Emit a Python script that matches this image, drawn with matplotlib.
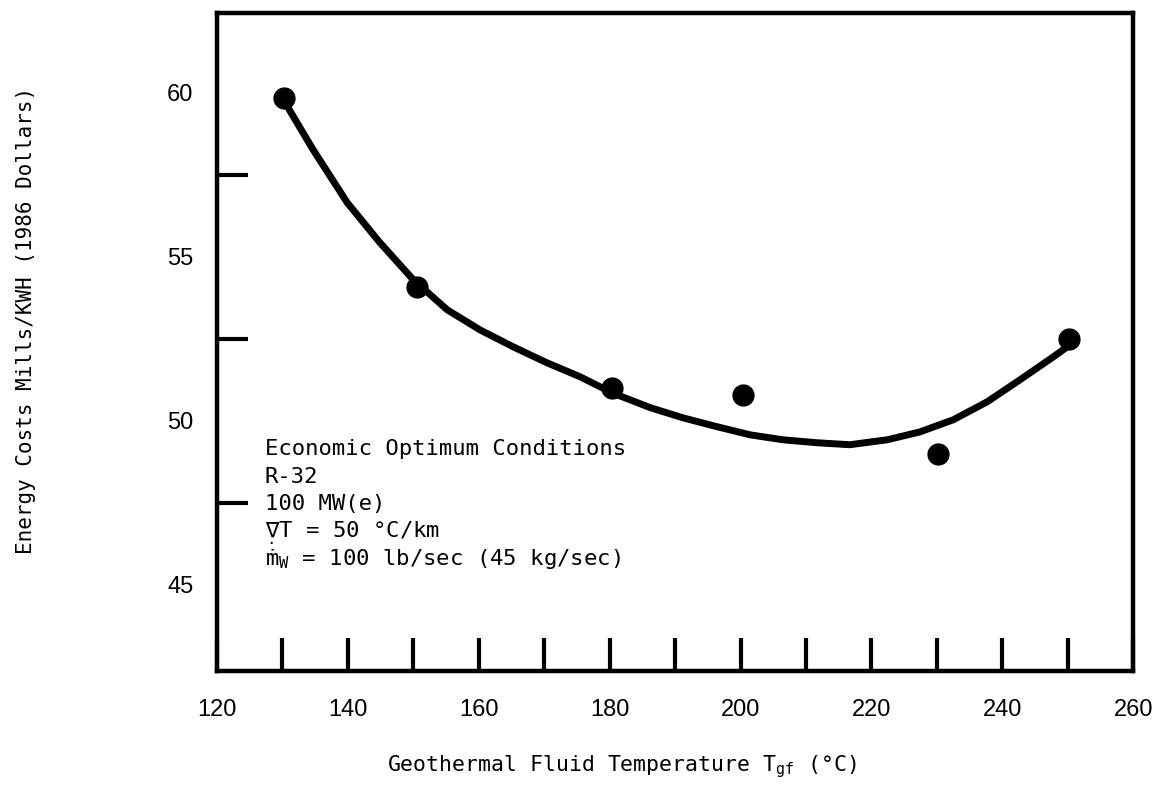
import numpy as np
import matplotlib.pyplot as plt
from matplotlib.ticker import FixedLocator

plt.rcParams['mathtext.fontset'] = 'custom'
plt.rcParams['mathtext.rm'] = 'DejaVu Sans Mono'
plt.rcParams['mathtext.it'] = 'DejaVu Sans Mono'
plt.rcParams['mathtext.bf'] = 'DejaVu Sans Mono'

# measured points (deg C, mills/kWh)
temp_points = [130.2, 150.6, 180.4, 200.4, 230.2, 250.2]
cost_points = [59.85, 54.09, 51.0, 50.79, 49.0, 52.5]

# hand-drawn fit curve
curve_temp = [130.4, 134.7, 139.9, 144.9, 150.0, 155.2, 160.2, 165.2, 170.4,
              175.5, 180.4, 186.2, 191.2, 196.4, 201.5, 206.5, 211.7, 216.7,
              222.4, 227.4, 232.5, 237.7, 242.7, 247.8, 250.8]
curve_cost = [59.70, 58.26, 56.65, 55.43, 54.30, 53.38, 52.77, 52.26, 51.77,
              51.34, 50.85, 50.40, 50.09, 49.82, 49.57, 49.42, 49.33, 49.27,
              49.42, 49.66, 50.03, 50.58, 51.25, 51.95, 52.38]

x_ticks = [120, 140, 160, 180, 200, 220, 240, 260]
x_minor = [130, 150, 170, 190, 210, 230, 250]
y_ticks = [45, 50, 55, 60]
y_minor = [47.5, 52.5, 57.5]

notes = [
    "Economic Optimum Conditions",
    "R-32",
    "100 MW(e)",
    "$\\mathrm{\\underset{.}{∇}T}$ = 50 °C/km",
    "$\\mathrm{ṁ_W}$ = 100 lb/sec (45 kg/sec)",
]

fig = plt.figure(figsize=(11.54, 7.91), dpi=100)
ax = fig.add_axes([0.188, 0.152, 0.794, 0.832])

ax.plot(curve_temp, curve_cost, color='black', lw=5, solid_capstyle='round')
ax.plot(temp_points, cost_points, 'o', color='black', ms=15)

ax.set_xlim(120, 260)
ax.set_ylim(42.38, 62.44)

for s in ax.spines.values():
    s.set_linewidth(3.2)

ax.set_xticks(x_ticks)
ax.xaxis.set_minor_locator(FixedLocator(x_minor))
ax.tick_params(axis='x', which='both', direction='in', length=24, width=3,
               pad=20, labelsize=17)
ax.set_yticks(y_ticks)
ax.yaxis.set_minor_locator(FixedLocator(y_minor))
ax.tick_params(axis='y', which='major', length=0, pad=17, labelsize=17)
ax.tick_params(axis='y', which='minor', direction='in', length=22, width=3)
for lbl in ax.get_xticklabels() + ax.get_yticklabels():
    lbl.set_fontfamily('Liberation Sans')

ax.set_xlabel("Geothermal Fluid Temperature $\\mathrm{T_{gf}}$ (°C)",
              family='DejaVu Sans Mono', fontsize=15.5)
ax.xaxis.set_label_coords(0.442, -0.126)
ax.set_ylabel("Energy Costs Mills/KWH (1986 Dollars)",
              family='DejaVu Sans Mono', fontsize=15)
ax.yaxis.set_label_coords(-0.1976, 0.532)

for i, line in enumerate(notes):
    ax.text(0.052, 0.328 - i * 0.042, line, transform=ax.transAxes,
            family='DejaVu Sans Mono', fontsize=16, va='baseline')

fig.savefig("out.png", dpi=100)
